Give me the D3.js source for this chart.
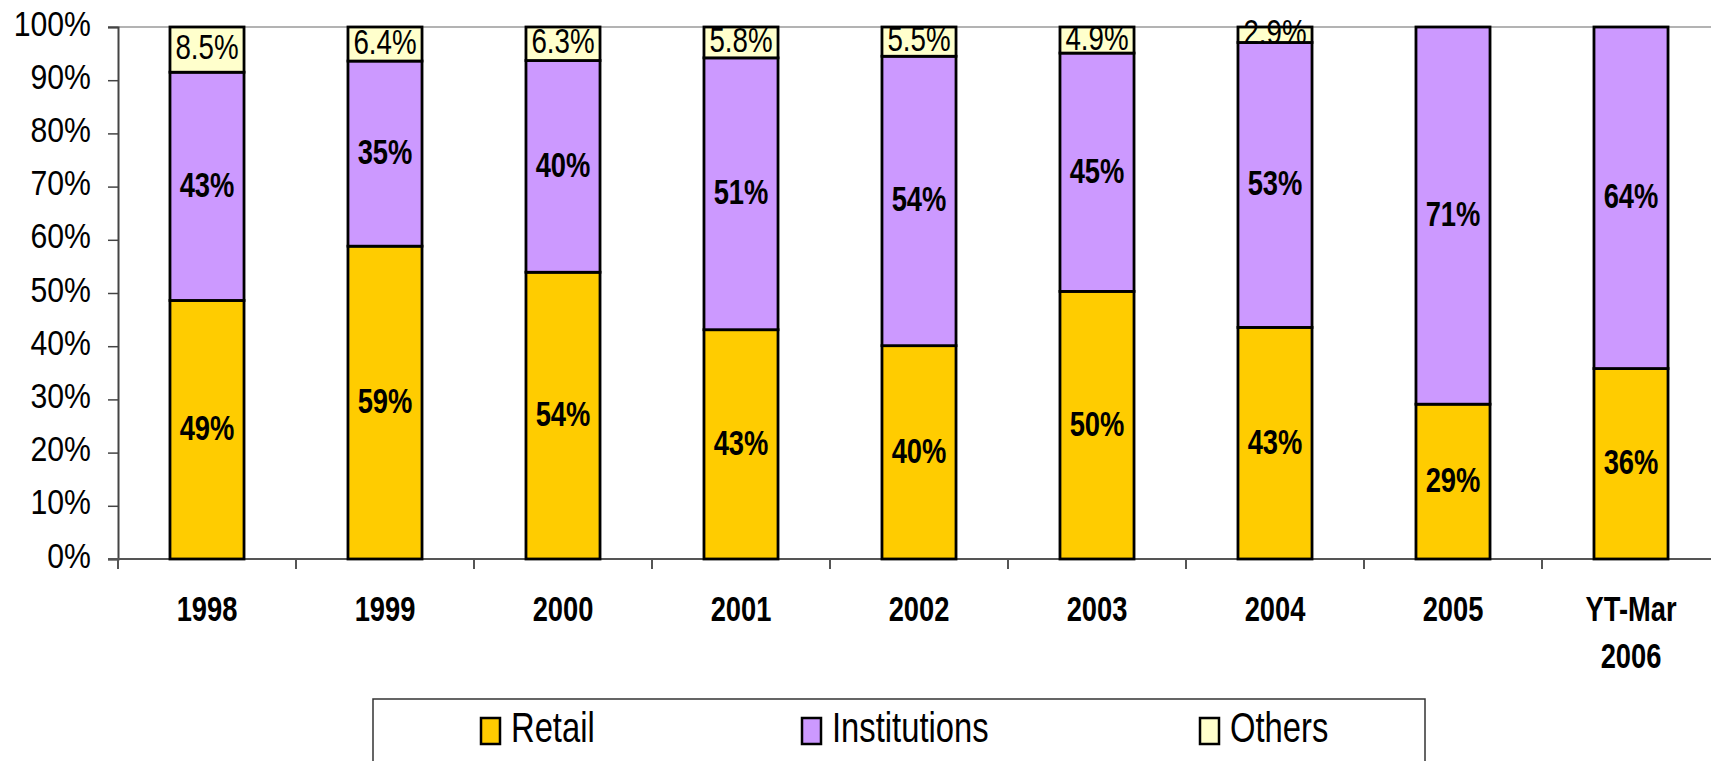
<!DOCTYPE html>
<html>
<head>
<meta charset="utf-8">
<script src="https://cdn.jsdelivr.net/npm/d3@7"></script>
<style>
  html, body { margin: 0; padding: 0; background: #fff; }
  svg { display: block; }
  text { font-family: "Liberation Sans", Arial, sans-serif; fill: #000; }
</style>
</head>
<body>
<svg id="chart" width="1711" height="761"></svg>
<script>
// ---- data ----
const categories = ["1998", "1999", "2000", "2001", "2002", "2003", "2004", "2005", "YT-Mar 2006"];
const seriesNames = ["Retail", "Institutions", "Others"];
const retail       = [48.6, 58.8, 53.9, 43.1, 40.1, 50.3, 43.4, 29.1, 35.8];
const institutions = [42.9, 34.8, 39.8, 51.1, 54.4, 44.8, 53.4, 70.9, 64.2];
const others       = [8.5, 6.4, 6.3, 5.8, 5.5, 4.9, 2.9, 0, 0];
const yTickValues  = [0, 0.1, 0.2, 0.3, 0.4, 0.5, 0.6, 0.7, 0.8, 0.9, 1];
const yTickLabels  = ["0%", "10%", "20%", "30%", "40%", "50%", "60%", "70%", "80%", "90%", "100%"];

const colors = { Retail: "#FFCC00", Institutions: "#CC99FF", Others: "#FFFFCC" };
const seriesValues = { Retail: retail, Institutions: institutions, Others: others };

(function () {
// table for the stack
const table = categories.map((c, i) => {
  const row = { category: c };
  seriesNames.forEach(s => row[s] = seriesValues[s][i]);
  return row;
});

const svg = d3.select("#chart");
const plotLeft = 118, plotRight = 1720, plotTop = 27, plotBottom = 559;

const x = d3.scaleBand().domain(categories).range([plotLeft, plotRight])
  .paddingInner(0.584).paddingOuter(0.292);
const y = d3.scaleLinear().domain([0, 1]).range([plotBottom, plotTop]);

const stack = d3.stack().keys(seriesNames).offset(d3.stackOffsetExpand);
const stacked = stack(table);

// top border line
svg.append("line")
  .attr("x1", 108).attr("x2", 1711).attr("y1", y(1)).attr("y2", y(1))
  .attr("stroke", "#9a9a9a").attr("stroke-width", 1.5);

// y axis
const yAxis = svg.append("g")
  .attr("transform", `translate(${plotLeft},0)`)
  .call(d3.axisLeft(y).tickValues(yTickValues).tickSize(10)
    .tickFormat((d, i) => yTickLabels[i]));
yAxis.select(".domain").attr("stroke", "#444").attr("stroke-width", 2);
yAxis.selectAll(".tick line").attr("stroke", "#444").attr("stroke-width", 1.5);
const ySx = 0.84;
yAxis.selectAll(".tick text")
  .attr("font-family", "'Liberation Sans', Arial, sans-serif")
  .attr("font-size", 36)
  .attr("fill", "#000")
  .attr("text-anchor", "end")
  .attr("dy", null)
  .attr("x", -27 / ySx)
  .attr("y", 8)
  .attr("transform", `scale(${ySx},1)`);

// x axis line
svg.append("line")
  .attr("x1", 108).attr("x2", 1711).attr("y1", y(0)).attr("y2", y(0))
  .attr("stroke", "#555").attr("stroke-width", 2);

// x ticks at band boundaries
const boundaries = d3.range(categories.length + 1).map(i => x.range()[0] + i * x.step());
svg.append("g").selectAll("line").data(boundaries).join("line")
  .attr("x1", d => d).attr("x2", d => d)
  .attr("y1", y(0)).attr("y2", y(0) + 10)
  .attr("stroke", "#555").attr("stroke-width", 2);

// bars
const layers = svg.append("g").selectAll("g").data(stacked).join("g")
  .attr("fill", d => colors[d.key]);
layers.selectAll("rect").data(d => d.filter(p => p[1] - p[0] > 0)).join("rect")
  .attr("x", d => x(d.data.category))
  .attr("width", x.bandwidth())
  .attr("y", d => y(d[1]))
  .attr("height", d => y(d[0]) - y(d[1]))
  .attr("stroke", "#000")
  .attr("stroke-width", 2.8);

// value labels
const lblG = svg.append("g");
stacked.forEach(layer => {
  const isOthers = layer.key === "Others";
  const fs = 36;
  const sx = isOthers ? 0.77 : 0.76;
  layer.forEach((p, i) => {
    const raw = seriesValues[layer.key][i];
    if (!raw) return;
    const cx = x(p.data.category) + x.bandwidth() / 2;
    const cy = (y(p[0]) + y(p[1])) / 2 + (isOthers ? 9.5 : 10.5);
    lblG.append("text")
      .attr("transform", `translate(${cx},${cy}) scale(${sx},1)`)
      .attr("text-anchor", "middle")
      .attr("font-size", fs)
      .attr("font-weight", isOthers ? "normal" : "bold")
      .text(isOthers ? d3.format(".1f")(raw) + "%" : d3.format(".0f")(raw) + "%");
  });
});

// category labels
const catG = svg.append("g");
categories.forEach(c => {
  const lines = c.split(" ");
  const cx = x(c) + x.bandwidth() / 2;
  lines.forEach((ln, j) => {
    catG.append("text")
      .attr("transform", `translate(${cx},${621 + j * 47}) scale(0.78,1)`)
      .attr("text-anchor", "middle")
      .attr("font-size", 35)
      .attr("font-weight", "bold")
      .text(ln);
  });
});

// legend
const legend = svg.append("g");
legend.append("rect")
  .attr("x", 373).attr("y", 699).attr("width", 1052).attr("height", 120)
  .attr("fill", "#fff").attr("stroke", "#333").attr("stroke-width", 1.5);
const legendX = [481, 802, 1200];
seriesNames.forEach((s, i) => {
  legend.append("rect")
    .attr("x", legendX[i]).attr("y", 718).attr("width", 19).attr("height", 26)
    .attr("fill", colors[s]).attr("stroke", "#000").attr("stroke-width", 2.5);
  legend.append("text")
    .attr("transform", `translate(${legendX[i] + 30},742) scale(0.78,1)`)
    .attr("font-size", 42)
    .text(s);
});
})();
</script>
</body>
</html>
